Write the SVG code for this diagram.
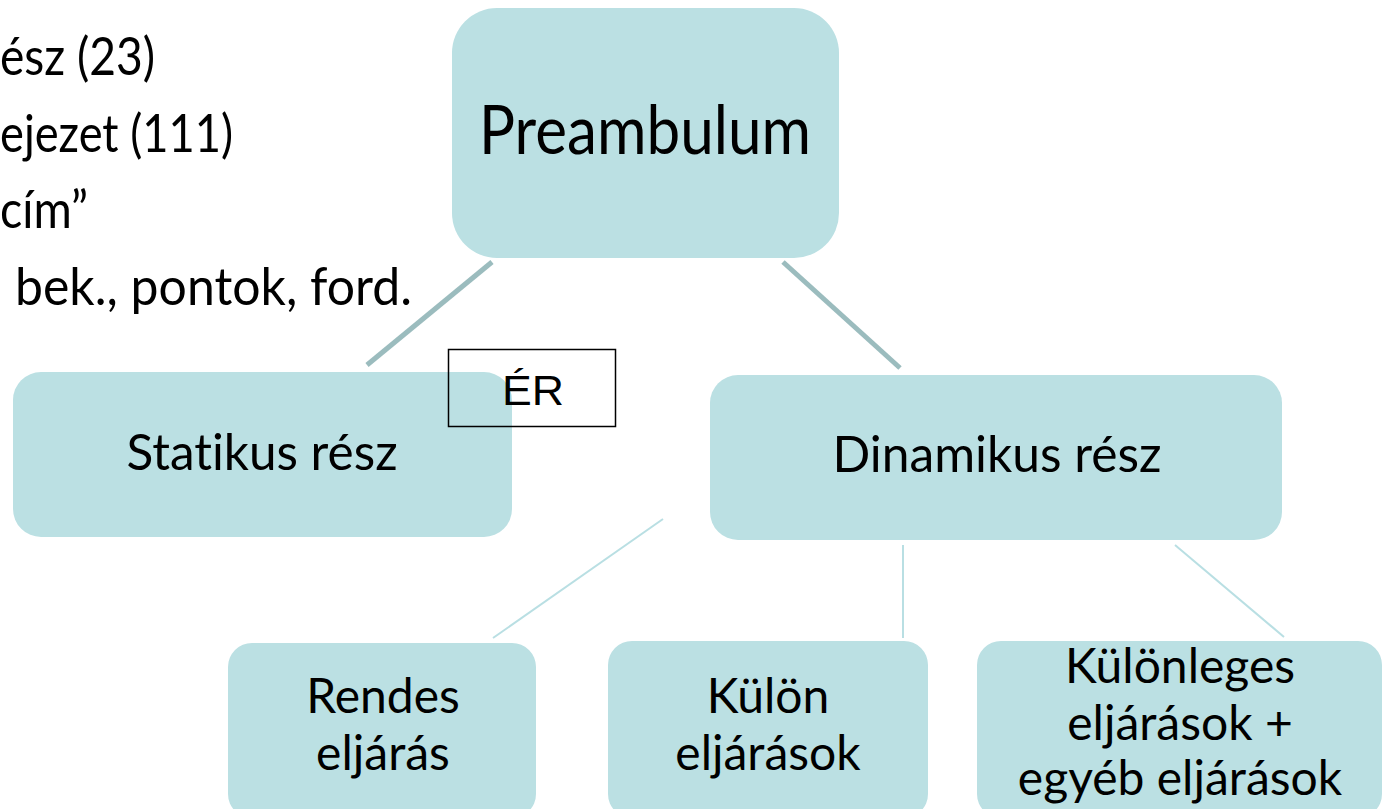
<svg xmlns="http://www.w3.org/2000/svg" width="1385" height="809" viewBox="0 0 1385 809">
<style>
.box{fill:#bbe0e3;}
.t{font-family:Lato,"Noto Sans",sans-serif;fill:#000;font-variant-ligatures:none;font-feature-settings:"liga" 0,"dlig" 0;}
.c{text-anchor:middle;}
.thick{stroke:#9bbcbe;stroke-width:5;fill:none;}
.thin{stroke:#b9dfe3;stroke-width:2;fill:none;}
</style>
<rect width="1385" height="809" fill="#fff"/>
<g id="left-text" class="t" font-size="52">
<text x="0" y="75" textLength="155" lengthAdjust="spacingAndGlyphs">ész (23)</text>
<text x="0" y="152" textLength="233" lengthAdjust="spacingAndGlyphs">ejezet (111)</text>
<text x="0" y="228" textLength="88" lengthAdjust="spacingAndGlyphs">cím”</text>
<text x="15" y="305" textLength="397" lengthAdjust="spacingAndGlyphs">bek., pontok, ford.</text>
</g>
<g id="connectors">
<line class="thick" x1="492" y1="262" x2="367" y2="365"/>
<line class="thick" x1="783" y1="262" x2="900" y2="368"/>
<line class="thin" x1="663" y1="519" x2="493" y2="638"/>
<line class="thin" x1="903" y1="545" x2="903" y2="638"/>
<line class="thin" x1="1175" y1="545" x2="1284" y2="637"/>
</g>
<g id="preambulum">
<rect class="box" x="452" y="8" width="387" height="250" rx="45"/>
<text class="t c" x="645" y="154" font-size="68" textLength="332" lengthAdjust="spacingAndGlyphs">Preambulum</text>
</g>
<g id="statikus">
<rect class="box" x="13" y="372" width="499" height="165" rx="28"/>
<text class="t c" x="262" y="470" font-size="50" textLength="271" lengthAdjust="spacingAndGlyphs">Statikus rész</text>
</g>
<g id="er">
<rect x="448.5" y="349.5" width="167" height="77" fill="none" stroke="#000" stroke-width="1.5"/>
<text x="533" y="405" font-family="'Liberation Sans',Arial,sans-serif" font-size="42" text-anchor="middle" textLength="62" lengthAdjust="spacingAndGlyphs">ÉR</text>
</g>
<g id="dinamikus">
<rect class="box" x="710" y="375" width="572" height="165" rx="28"/>
<text class="t c" x="997" y="472" font-size="50" textLength="329" lengthAdjust="spacingAndGlyphs">Dinamikus rész</text>
</g>
<g id="rendes">
<rect class="box" x="228" y="643" width="308" height="175" rx="24"/>
<text class="t c" x="383" y="713" font-size="48">Rendes</text>
<text class="t c" x="383" y="770" font-size="48">eljárás</text>
</g>
<g id="kulon">
<rect class="box" x="608" y="641" width="320" height="177" rx="24"/>
<text class="t c" x="768" y="713" font-size="48">Külön</text>
<text class="t c" x="768" y="770" font-size="48">eljárások</text>
</g>
<g id="kulonleges">
<rect class="box" x="977" y="641" width="405" height="177" rx="24"/>
<text class="t c" x="1180" y="683" font-size="48">Különleges</text>
<text class="t c" x="1180" y="740" font-size="48">eljárások +</text>
<text class="t c" x="1180" y="795" font-size="48">egyéb eljárások</text>
</g>
</svg>
